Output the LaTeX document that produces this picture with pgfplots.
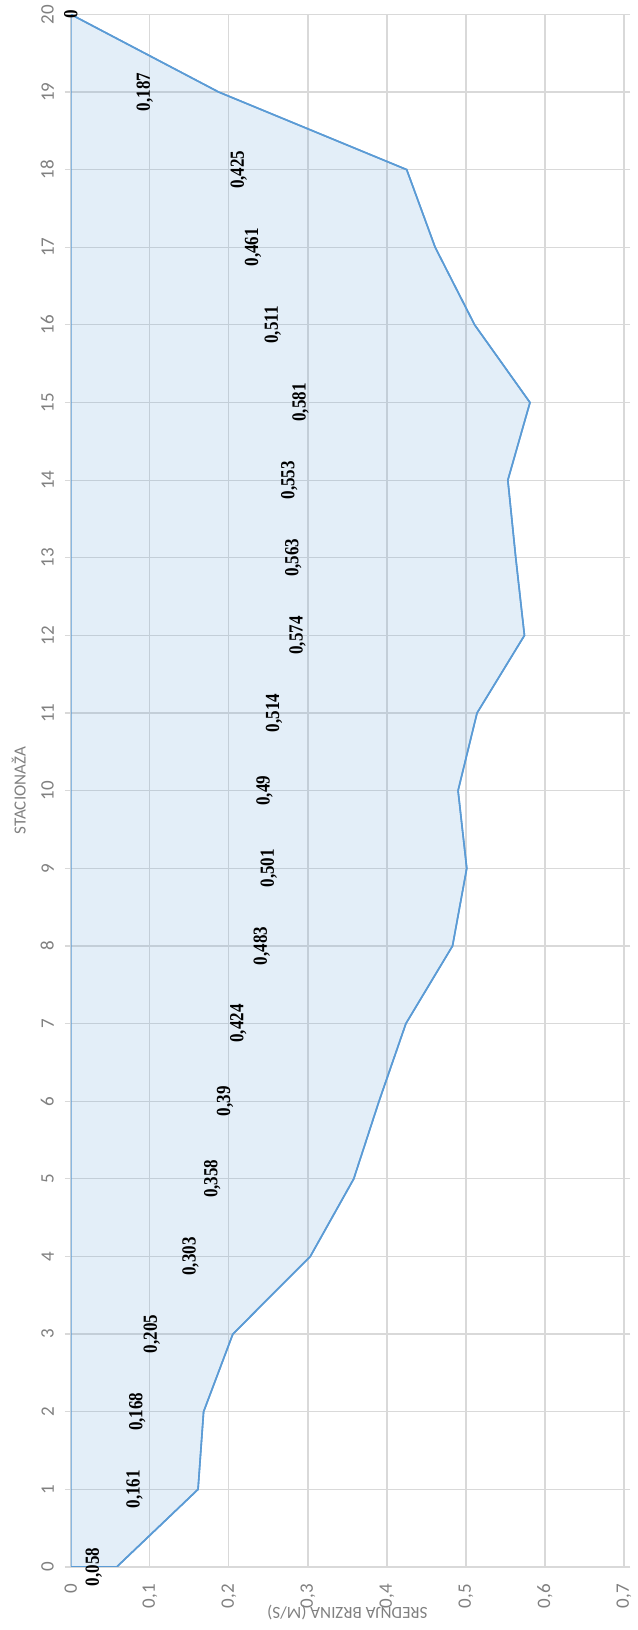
\documentclass[border=0pt]{standalone}
\usepackage{pgfplots}
\pgfplotsset{compat=1.18}
\usepackage{pgfplotstable}
\usepackage{fontspec}
\setmainfont{Carlito}
\newfontfamily\lblfont{Liberation Serif}
\definecolor{exblue}{HTML}{5B9BD5}
\definecolor{gridgray}{HTML}{D9D9D9}
\definecolor{txtgray}{HTML}{808080}
\pgfplotstableread{
s v h lbl
0 0.058 0.029 0,058
1 0.161 0.0805 0,161
2 0.168 0.084 0,168
3 0.205 0.1025 0,205
4 0.303 0.1515 0,303
5 0.358 0.179 0,358
6 0.39 0.195 0,39
7 0.424 0.212 0,424
8 0.483 0.2415 0,483
9 0.501 0.2505 0,501
10 0.49 0.245 0,49
11 0.514 0.257 0,514
12 0.574 0.287 0,574
13 0.563 0.2815 0,563
14 0.553 0.2765 0,553
15 0.581 0.2905 0,581
16 0.511 0.2555 0,511
17 0.461 0.2305 0,461
18 0.425 0.2125 0,425
19 0.187 0.0935 0,187
20 0 0 0
}\datatab
\begin{document}
\begin{tikzpicture}
\begin{axis}[
  scale only axis,
  width=276.5pt, height=776pt,
  xmin=0, xmax=0.7, ymin=0, ymax=20,
  xtick={0,0.1,...,0.7},
  ytick={0,1,...,20},
  grid=major,
  major grid style={gridgray, line width=0.6pt},
  axis line style={draw=none},
  x tick style={draw=none},
  y tick style={gridgray, line width=0.6pt},
  major tick length=3pt,
  tick align=outside,
  /pgf/number format/assume math mode=true,
  /pgf/number format/use comma,
  /pgf/number format/fixed,
  ticklabel style={font=\fontsize{9.5}{11}\selectfont, text=txtgray},
  xticklabel style={rotate=90, anchor=east, xshift=-2pt},
  yticklabel style={rotate=90, anchor=south, yshift=2pt},
  xlabel={SREDNJA BRZINA (M/S)},
  ylabel={STACIONAŽA},
  label style={font=\fontsize{8.5}{10}\selectfont, text=txtgray},
  xlabel style={at={(axis description cs:0.5,-0.0296)}, anchor=center, rotate=180},
  ylabel style={at={(axis description cs:-0.094,0.5)}, anchor=center},
]
\coordinate (SW) at (rel axis cs:0,0);
\coordinate (NE) at (rel axis cs:1,1);
\addplot[draw=exblue, line width=0.8pt, fill=exblue, fill opacity=0.17] table[x=v, y=s] {\datatab} -- (axis cs:0,20) -- (axis cs:0,0) -- cycle;
\addplot[draw=exblue, line width=0.8pt] table[x=v, y=s] {\datatab};
\addplot[only marks, mark=none, nodes near coords={\scalebox{0.85}[1]{\pgfplotspointmeta}}, point meta=explicit symbolic,
  nodes near coords style={anchor=center, rotate=90, font=\lblfont\bfseries\fontsize{10}{12}\selectfont, text=black, inner sep=0pt}]
  table[x=h, y=s, meta=lbl] {\datatab};
\end{axis}
\pgfresetboundingbox
\path ([shift={(-35.4pt,-31.5pt)}]SW) rectangle ([shift={(6.7pt,7.2pt)}]NE);
\end{tikzpicture}
\end{document}
